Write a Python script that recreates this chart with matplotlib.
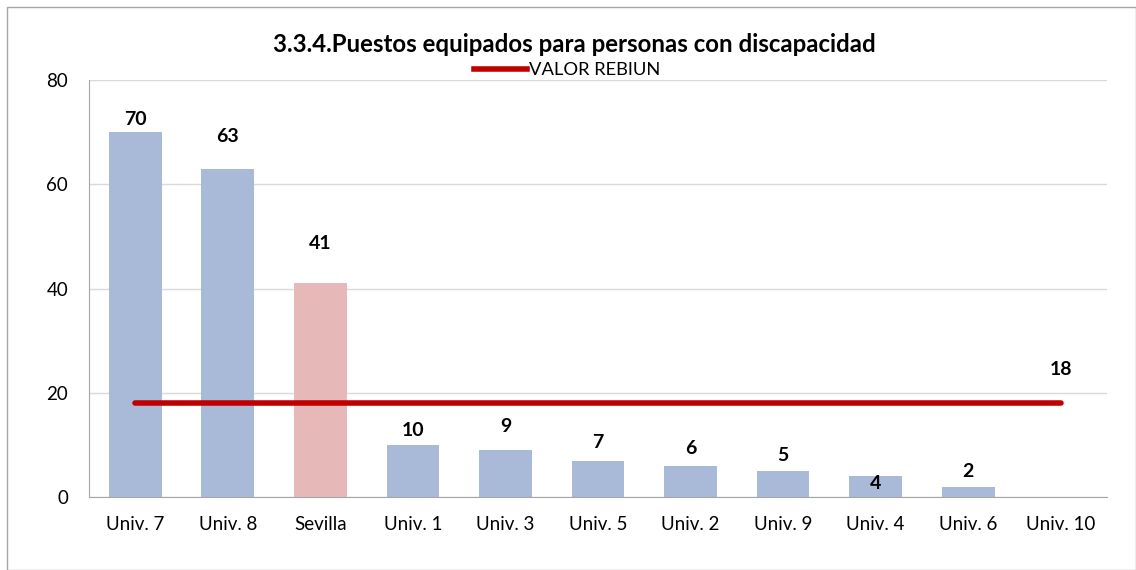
import matplotlib
matplotlib.use('Agg')
import matplotlib.pyplot as plt
import matplotlib.lines as mlines
from matplotlib.patches import Rectangle

plt.rcParams['font.family'] = ['Lato', 'DejaVu Sans']

# datos
categorias = ['Univ. 7', 'Univ. 8', 'Sevilla', 'Univ. 1', 'Univ. 3', 'Univ. 5',
              'Univ. 2', 'Univ. 9', 'Univ. 4', 'Univ. 6', 'Univ. 10']
valores = [70, 63, 41, 10, 9, 7, 6, 5, 4, 2, 0]
rebiun = [18] * len(categorias)
titulo = '3.3.4.Puestos equipados para personas con discapacidad'

# desplazamiento vertical de cada etiqueta (colocadas a mano en el original)
desplaz = [2.5, 6.1, 7.7, 2.7, 4.6, 3.4, 3.4, 2.9, -1.5, 2.8, 0]

azul = '#A9B9D8'
rosa = '#E6B9B8'
rojo = '#C00000'

fig = plt.figure(figsize=(11.36, 5.70), dpi=100)
ax = fig.add_axes([89 / 1136, 1 - 497 / 570, 1018 / 1136, 417 / 570])

x = list(range(len(categorias)))
colores = [rosa if c == 'Sevilla' else azul for c in categorias]
ax.bar(x, valores, width=0.57, color=colores, zorder=2)

# etiquetas de valores
for i, v in enumerate(valores):
    if v > 0:
        ax.text(i, v + desplaz[i], str(v), ha='center', va='center', fontsize=14, fontweight='bold', zorder=4)

linea, = ax.plot(x, rebiun, color=rojo, linewidth=4, solid_capstyle='round', zorder=3)
ax.text(x[-1], rebiun[-1] + 6.4, str(rebiun[-1]), ha='center', va='center', fontsize=14, fontweight='bold')

ax.set_xlim(-0.5, len(categorias) - 0.5)
ax.set_ylim(0, 80)
ax.set_yticks([0, 20, 40, 60, 80])
ax.set_xticks(x)
ax.set_xticklabels(categorias, fontsize=13.5)
ax.tick_params(axis='y', labelsize=13.5, length=0, pad=15)
ax.tick_params(axis='x', length=0, pad=14)
ax.grid(axis='y', color='#D9D9D9', linewidth=1, zorder=0)
for lado in ['top', 'right']:
    ax.spines[lado].set_visible(False)
ax.spines['left'].set_color('#A6A6A6')
ax.spines['bottom'].set_color('#A6A6A6')

fig.text(574 / 1136, 1 - 44 / 570, titulo, ha='center', va='center', fontsize=17.3, fontweight='bold')

leyenda = mlines.Line2D([], [], color=rojo, linewidth=4, label='VALOR REBIUN')
fig.legend(handles=[leyenda], loc='center', bbox_to_anchor=(567 / 1136, 1 - 70 / 570),
           frameon=False, fontsize=13.2, handlelength=2.9, handletextpad=0.1)

# marco exterior
fig.patches.append(Rectangle((7 / 1136, 0), 1 - 7 / 1136, 1 - 7 / 570, transform=fig.transFigure,
                             fill=False, edgecolor='#A6A6A6', linewidth=1))

fig.savefig('out.png', dpi=100)
